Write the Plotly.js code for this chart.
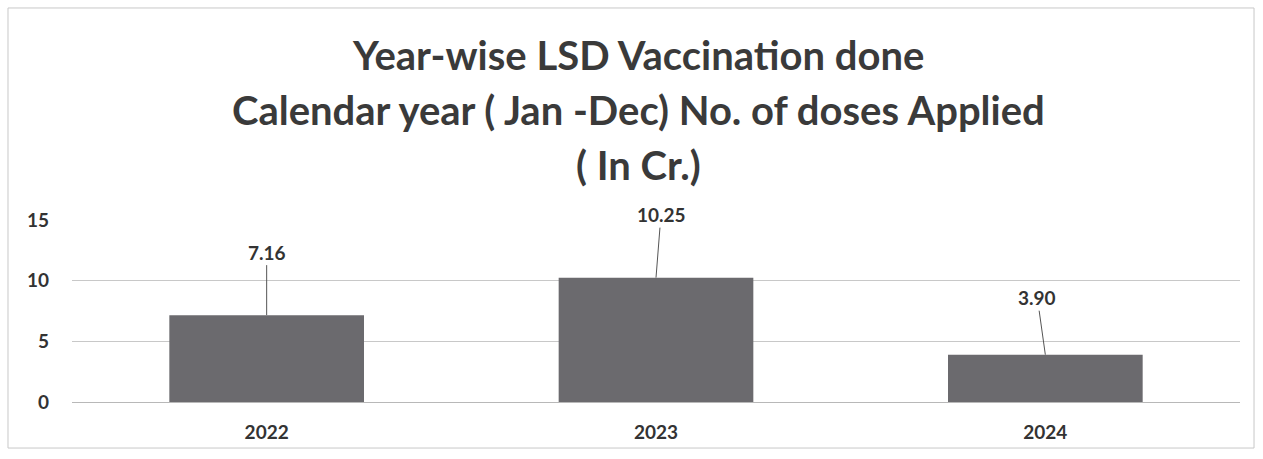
<!DOCTYPE html>
<html>
<head>
<meta charset="utf-8">
<script src="https://cdn.plot.ly/plotly-3.0.1.min.js"></script>
<style>html,body{margin:0;padding:0;background:#fff;}#chart{width:1263px;height:459px;}</style>
</head>
<body>
<div id="chart"></div>
<script>
const years = ["2022", "2023", "2024"];
const doses = [7.16, 10.25, 3.90];
const labelText = ["7.16", "10.25", "3.90"];
const labelAx = [0, 5, -8];
const labelAy = [-63, -63, -57];
const yTicks = [0, 5, 10, 15];
const titleLines = [
  "Year-wise LSD Vaccination done",
  "Calendar year ( Jan -Dec) No. of doses Applied",
  "( In Cr.)"
];

const FONT = "Lato, 'Open Sans', sans-serif";

const trace = {
  type: "bar",
  x: years,
  y: doses,
  width: 0.5,
  marker: {color: "#6b6a6e", line: {width: 0}},
  hoverinfo: "x+y"
};

const annotations = years.map((yr, i) => ({
  x: i, y: doses[i], xref: "x", yref: "y",
  text: "<b>" + labelText[i] + "</b>",
  showarrow: true, arrowhead: 0, arrowwidth: 1, arrowcolor: "#555",
  ax: labelAx[i], ay: labelAy[i],
  font: {family: FONT, size: 19, color: "#333"}
}));

// title lines: paper y = (402 - py) / 182
const titleCentersPx = [55, 110, 165];
titleLines.forEach((t, i) => {
  annotations.push({
    xref: "paper", yref: "paper",
    x: 0.4846, y: (402 - titleCentersPx[i]) / 182,
    xanchor: "center", yanchor: "middle",
    showarrow: false,
    text: "<b>" + t + "</b>",
    font: {family: FONT, size: 40, color: "#3a3a3a"}
  });
});

const layout = {
  width: 1263, height: 459,
  margin: {l: 72, r: 23, t: 220, b: 57},
  paper_bgcolor: "#fff", plot_bgcolor: "#fff",
  showlegend: false,
  xaxis: {
    type: "category",
    range: [-0.5, 2.5],
    showgrid: false, zeroline: false, showline: false,
    ticks: "",
    tickfont: {family: FONT, size: 19, color: "#333", weight: "bold"},
    ticklabelstandoff: 17
  },
  yaxis: {
    range: [0, 15],
    tickvals: yTicks,
    ticktext: yTicks.map(String),
    showgrid: true, gridcolor: "#c8c8c8", gridwidth: 1,
    zeroline: true, zerolinecolor: "#b8b8b8", zerolinewidth: 1,
    showline: false, ticks: "",
    tickfont: {family: FONT, size: 19, color: "#333", weight: "bold"},
    ticklabelstandoff: 22
  },
  annotations: annotations,
  shapes: [{
    type: "rect", xref: "paper", yref: "paper",
    x0: -0.0548, x1: 1.012, y0: -0.253, y1: 2.165,
    line: {color: "#c8c8c8", width: 1}, fillcolor: "rgba(0,0,0,0)", layer: "below"
  }]
};

Plotly.newPlot("chart", [trace], layout, {displayModeBar: false, staticPlot: true});
</script>
</body>
</html>
